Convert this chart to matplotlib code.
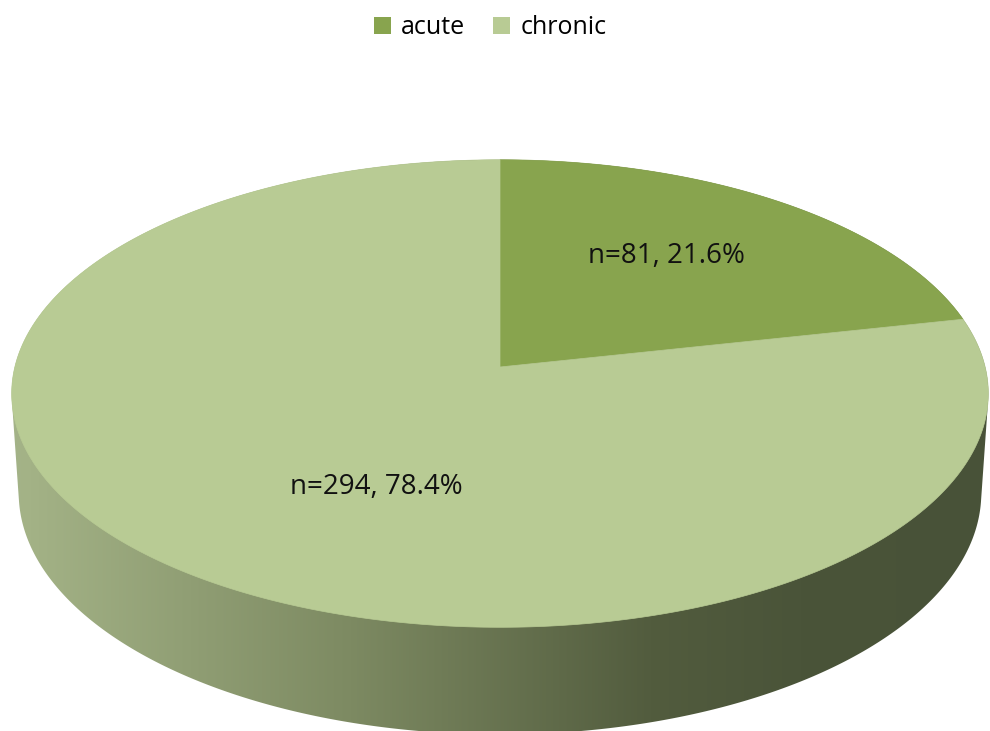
import numpy as np
import matplotlib
matplotlib.use("Agg")
import matplotlib.pyplot as plt
from matplotlib.patches import Polygon, Patch

# data
categories = ["acute", "chronic"]
counts = [81, 294]
pct_labels = ["n=81, 21.6%", "n=294, 78.4%"]
top_colors = ["#88a44e", "#b8cb94"]

# simple perspective camera for a 3d pie (pixel space)
W, H = 990, 731
CX, CY = 500, 367
phi = np.radians(28.4)
D = 7.75
F = 3760.0
h = 0.235


def proj(X, Y, Z):
    s, c = np.sin(phi), np.cos(phi)
    depth = D + Y * c - Z * s
    sx = F * X / depth
    sy = F * (Y * s + Z * c) / depth
    return CX + sx, CY - sy


def hull(pts):
    pts = sorted(set(map(tuple, np.round(pts, 3))))
    def cross(o, a, b):
        return (a[0]-o[0])*(b[1]-o[1]) - (a[1]-o[1])*(b[0]-o[0])
    lo, up = [], []
    for p in pts:
        while len(lo) >= 2 and cross(lo[-2], lo[-1], p) <= 0:
            lo.pop()
        lo.append(p)
    for p in reversed(pts):
        while len(up) >= 2 and cross(up[-2], up[-1], p) <= 0:
            up.pop()
        up.append(p)
    return np.array(lo[:-1] + up[:-1])


fig = plt.figure(figsize=(9.9, 7.31), dpi=100)
ax = fig.add_axes([0, 0, 1, 1])
ax.set_xlim(0, W)
ax.set_ylim(H, 0)
ax.axis("off")

th = np.linspace(0, 2*np.pi, 720)
tx, ty = proj(np.sin(th), np.cos(th), 0*th)
bx, by = proj(np.sin(th), np.cos(th), 0*th - h)
body = hull(np.column_stack([np.r_[tx, bx], np.r_[ty, by]]))

# side wall with horizontal gradient
stops_x = [0, 30, 350, 650, 800, 990]
stops_c = np.array([[165, 180, 137], [163, 178, 134], [125, 138, 98],
                    [82, 92, 62], [74, 84, 57], [72, 82, 56]]) / 255
gx = np.arange(W)
grad = np.stack([np.interp(gx, stops_x, stops_c[:, k]) for k in range(3)], axis=-1)
side = Polygon(body, closed=True, facecolor="none", edgecolor="none")
ax.add_patch(side)
im = ax.imshow(grad[None, :, :], extent=[0, W, H, 0], aspect="auto", zorder=1)
im.set_clip_path(side)

# top face slices, clockwise from 12 o'clock
total = sum(counts)
start = 0.0
for i, n in enumerate(counts):
    sweep = 2*np.pi * n / total
    t = np.linspace(start, start + sweep, 400)
    ax_, ay_ = proj(np.sin(t), np.cos(t), 0*t)
    px = np.r_[CX, ax_]
    py = np.r_[CY, ay_]
    ax.add_patch(Polygon(np.column_stack([px, py]), closed=True,
                         facecolor=top_colors[i], edgecolor=top_colors[i],
                         linewidth=0.5, zorder=2))
    start += sweep

# data labels
ax.text(666, 256, pct_labels[0], ha="center", va="center", fontsize=20,
        family="Open Sans", color="#111111", zorder=3)
ax.text(376, 487, pct_labels[1], ha="center", va="center", fontsize=20,
        family="Open Sans", color="#111111", zorder=3)

handles = [Patch(facecolor=top_colors[i], label=categories[i]) for i in range(2)]
fig.legend(handles=handles, loc="upper center", bbox_to_anchor=(0.495, 1.01),
           ncol=2, frameon=False, handlelength=0.7, handleheight=0.7,
           handletextpad=0.4, columnspacing=1.1,
           prop={"family": "Open Sans", "size": 18})

fig.savefig("out.png", dpi=100)
